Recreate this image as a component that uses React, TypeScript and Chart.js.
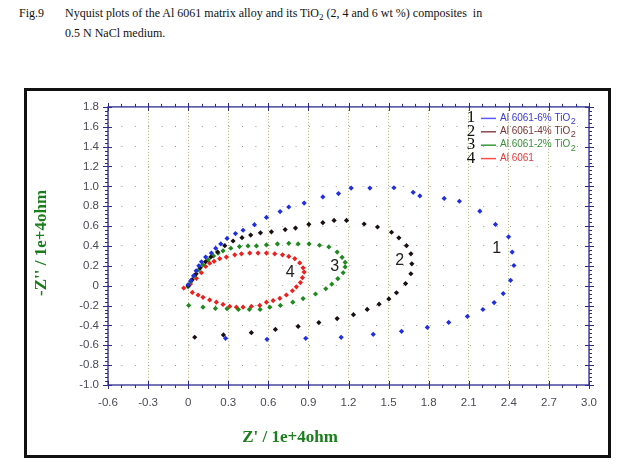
import React, { useEffect, useRef } from "react";
import { Chart, registerables } from "chart.js";

Chart.register(...registerables);

// ---------- data ----------
const seriesNames = [
  "Al 6061-6% TiO₂",
  "Al 6061-4% TiO₂",
  "Al 6061-2% TiO₂",
  "Al 6061",
];
const seriesNumbers = ["1", "2", "3", "4"];

const s1: [number, number][] = [
  [0.0, 0.01], [0.02, 0.05], [0.04, 0.1], [0.06, 0.15], [0.08, 0.2], [0.1, 0.24],
  [0.131, 0.288], [0.174, 0.328], [0.206, 0.377], [0.244, 0.42], [0.291, 0.476],
  [0.354, 0.525], [0.411, 0.558], [0.496, 0.614], [0.586, 0.687], [0.688, 0.746],
  [0.753, 0.792], [0.868, 0.832], [1.008, 0.894], [1.125, 0.927], [1.22, 0.983],
  [1.36, 0.983], [1.54, 0.986], [1.684, 0.94], [1.734, 0.904], [1.916, 0.878],
  [2.03, 0.85], [2.183, 0.75], [2.3, 0.617], [2.398, 0.492], [2.425, 0.338],
  [2.438, 0.203], [2.413, 0.054], [2.358, -0.08], [2.29, -0.17], [2.206, -0.24],
  [2.09, -0.31], [1.95, -0.37], [1.79, -0.42], [1.597, -0.46], [1.385, -0.49],
  [1.145, -0.52], [0.88, -0.53], [0.59, -0.54], [0.28, -0.53],
];

const s2: [number, number][] = [
  [0.0, 0.0], [0.03, 0.06], [0.06, 0.12], [0.09, 0.18], [0.13, 0.24], [0.17, 0.29],
  [0.22, 0.34], [0.274, 0.403], [0.336, 0.45], [0.403, 0.483], [0.468, 0.509],
  [0.541, 0.532], [0.623, 0.542], [0.726, 0.565], [0.803, 0.58], [0.903, 0.618],
  [1.008, 0.634], [1.092, 0.657], [1.185, 0.657], [1.317, 0.621], [1.417, 0.591],
  [1.522, 0.538], [1.577, 0.482], [1.634, 0.403], [1.667, 0.321], [1.674, 0.22],
  [1.667, 0.12], [1.627, 0.021], [1.559, -0.071], [1.502, -0.133], [1.429, -0.186],
  [1.34, -0.239], [1.237, -0.292], [1.115, -0.331], [0.978, -0.371], [0.823, -0.41],
  [0.653, -0.44], [0.473, -0.473], [0.264, -0.496], [0.049, -0.519],
];

const s3: [number, number][] = [
  [0.0, -0.01], [0.02, 0.04], [0.05, 0.1], [0.08, 0.16], [0.11, 0.21], [0.15, 0.26],
  [0.19, 0.3], [0.224, 0.328], [0.261, 0.351], [0.319, 0.377], [0.384, 0.394],
  [0.448, 0.4], [0.511, 0.4], [0.586, 0.41], [0.668, 0.42], [0.753, 0.426],
  [0.823, 0.42], [0.905, 0.42], [0.983, 0.407], [1.053, 0.39], [1.115, 0.338],
  [1.152, 0.285], [1.175, 0.235], [1.175, 0.189], [1.16, 0.13], [1.12, 0.071],
  [1.075, 0.015], [1.03, -0.031], [0.953, -0.084], [0.86, -0.13], [0.783, -0.166],
  [0.69, -0.199], [0.611, -0.216], [0.538, -0.239], [0.458, -0.239], [0.376, -0.239],
  [0.291, -0.232], [0.204, -0.229], [0.111, -0.216], [0.004, -0.199],
];

const s4: [number, number][] = [
  [-0.033, -0.024], [0.017, 0.016], [0.062, 0.074], [0.099, 0.13], [0.131, 0.193],
  [0.161, 0.226], [0.194, 0.245], [0.236, 0.272], [0.286, 0.288], [0.349, 0.311],
  [0.399, 0.321], [0.461, 0.328], [0.523, 0.328], [0.586, 0.328], [0.648, 0.321],
  [0.706, 0.311], [0.753, 0.295], [0.798, 0.272], [0.835, 0.229], [0.86, 0.18],
  [0.868, 0.137], [0.855, 0.081], [0.84, 0.031], [0.81, -0.012], [0.78, -0.051],
  [0.735, -0.094], [0.686, -0.127], [0.636, -0.15], [0.586, -0.166], [0.536, -0.199],
  [0.473, -0.209], [0.411, -0.216], [0.361, -0.216], [0.311, -0.209], [0.261, -0.189],
  [0.211, -0.166], [0.161, -0.143], [0.111, -0.117], [0.074, -0.094], [0.031, -0.068],
];

// loop labels "1".."4" placed at data coordinates
const loopLabelPos: [number, number][] = [
  [2.31, 0.377],
  [1.584, 0.255],
  [1.097, 0.19],
  [0.763, 0.13],
];

const xTickLabels = ["-0.6", "-0.3", "0", "0.3", "0.6", "0.9", "1.2", "1.5", "1.8", "2.1", "2.4", "2.7", "3.0"];
const yTickLabels = ["-1.0", "-0.8", "-0.6", "-0.4", "-0.2", "0", "0.2", "0.4", "0.6", "0.8", "1.0", "1.2", "1.4", "1.6", "1.8"];

const X_MIN = -0.6, X_MAX = 3.0, X_STEP = 0.3, X_MINOR = 0.1;
const Y_MIN = -1.0, Y_MAX = 1.8, Y_STEP = 0.2, Y_MINOR = 0.04;

// ---------- style ----------
const pointColors = ["#1f2fe0", "#1a0f0f", "#1e8a1e", "#ec1e1e"];
const legendLineColors = ["#5a5aff", "#8a4a4a", "#3a9a3a", "#ff4a4a"];
const legendTextColors = ["#3a3ad0", "#7a3535", "#3a8f3a", "#e53a3a"];
const AXIS_COLOR = "#2b2b8e";
const TITLE_COLOR = "#1b7d1b";
const TICK_COLOR = "#4a4a58";

const overlayPlugin = {
  id: "overlay",
  afterDraw(chart: any) {
    const { ctx, chartArea: a, scales } = chart;
    const xs = scales.x, ys = scales.y;
    ctx.save();
    // frame
    ctx.strokeStyle = AXIS_COLOR;
    ctx.lineWidth = 1.3;
    ctx.strokeRect(a.left, a.top, a.right - a.left, a.bottom - a.top);
    ctx.lineWidth = 1;
    // x ticks (bottom and top)
    const nx = Math.round((X_MAX - X_MIN) / X_MINOR);
    const xMajEvery = Math.round(X_STEP / X_MINOR);
    ctx.beginPath();
    for (let i = 0; i <= nx; i++) {
      const px = Math.round(xs.getPixelForValue(X_MIN + i * X_MINOR)) + 0.5;
      const major = i % xMajEvery === 0;
      ctx.moveTo(px, a.bottom - (major ? 4 : 0));
      ctx.lineTo(px, a.bottom + (major ? 4 : 3));
      ctx.moveTo(px, a.top + (major ? 4 : 0));
      ctx.lineTo(px, a.top - (major ? 4 : 3));
    }
    const ny = Math.round((Y_MAX - Y_MIN) / Y_MINOR);
    const yMajEvery = Math.round(Y_STEP / Y_MINOR);
    for (let i = 0; i <= ny; i++) {
      const py = Math.round(ys.getPixelForValue(Y_MIN + i * Y_MINOR)) + 0.5;
      const major = i % yMajEvery === 0;
      ctx.moveTo(a.left + (major ? 4 : 0), py);
      ctx.lineTo(a.left - (major ? 5 : 3), py);
      ctx.moveTo(a.right - (major ? 4 : 0), py);
      ctx.lineTo(a.right + (major ? 5 : 3), py);
    }
    ctx.stroke();

    // axis titles
    ctx.fillStyle = TITLE_COLOR;
    ctx.font = "bold 17px 'Liberation Serif'";
    ctx.textAlign = "center";
    ctx.textBaseline = "middle";
    ctx.fillText("Z' / 1e+4ohm", a.left + 182, a.bottom + 53);
    ctx.save();
    ctx.translate(15, (a.top + a.bottom) / 2 - 3);
    ctx.rotate(-Math.PI / 2);
    ctx.fillText("-Z'' / 1e+4ohm", 0, 0);
    ctx.restore();

    // loop labels
    ctx.fillStyle = "#222";
    ctx.font = "16px 'Liberation Sans'";
    loopLabelPos.forEach((p, i) => {
      ctx.fillText(seriesNumbers[i], xs.getPixelForValue(p[0]), ys.getPixelForValue(p[1]));
    });

    // legend
    const lx = a.right - 118;
    seriesNames.forEach((name, i) => {
      const y = a.top + 11 + i * 13.4;
      ctx.fillStyle = "#111";
      ctx.font = "17px 'Liberation Serif'";
      ctx.textAlign = "center";
      ctx.textBaseline = "middle";
      ctx.fillText(seriesNumbers[i], lx, y);
      ctx.strokeStyle = legendLineColors[i];
      ctx.lineWidth = 1.5;
      ctx.beginPath();
      ctx.moveTo(lx + 10, y + 0.5);
      ctx.lineTo(lx + 25, y + 0.5);
      ctx.stroke();
      ctx.fillStyle = legendTextColors[i];
      ctx.textAlign = "left";
      ctx.font = "10px 'Liberation Sans'";
      const hasSub = name.endsWith("₂");
      const base = hasSub ? name.slice(0, -1) : name;
      ctx.fillText(base, lx + 29, y);
      if (hasSub) {
        const w = ctx.measureText(base).width;
        ctx.font = "9px 'Liberation Sans'";
        ctx.fillText("2", lx + 29 + w + 0.5, y + 3.5);
      }
    });
    ctx.restore();
  },
};

export default function App() {
  const ref = useRef<HTMLCanvasElement>(null);
  useEffect(() => {
    if (!ref.current) return;
    const all = [s1, s2, s3, s4];
    const chart = new Chart(ref.current, {
      type: "scatter",
      data: {
        datasets: all.map((s, i) => ({
          label: seriesNames[i],
          data: s.map(([x, y]) => ({ x, y })),
          backgroundColor: pointColors[i],
          borderColor: pointColors[i],
          pointStyle: "rectRot",
          pointRadius: 2.6,
          borderWidth: 0,
          showLine: false,
        })),
      },
      options: {
        responsive: false,
        animation: false,
        devicePixelRatio: 1,
        layout: { padding: { top: 11, right: 18, bottom: 0, left: 0 } },
        plugins: { legend: { display: false }, tooltip: { enabled: false } },
        scales: {
          x: {
            type: "linear",
            min: X_MIN,
            max: X_MAX,
            afterFit: (s: any) => { s.height = 70; },
            ticks: {
              stepSize: X_STEP,
              padding: 11,
              color: TICK_COLOR,
              font: { family: "'Liberation Sans'", size: 11.5 },
              maxRotation: 0,
              autoSkip: false,
              callback: (_v: any, i: number) => xTickLabels[i],
            },
            grid: { color: "#b4b07c", lineWidth: 1, drawTicks: false },
            border: { display: false, dash: [1, 2] },
          },
          y: {
            type: "linear",
            min: Y_MIN,
            max: Y_MAX,
            afterFit: (s: any) => { s.width = 81; },
            ticks: {
              stepSize: Y_STEP,
              padding: 9,
              color: TICK_COLOR,
              font: { family: "'Liberation Sans'", size: 11.5 },
              autoSkip: false,
              callback: (_v: any, i: number) => yTickLabels[i],
            },
            grid: { color: "#9a9a9a", lineWidth: 1, drawTicks: false },
            border: { display: false, dash: [1, 12.4] },
          },
        },
      },
      plugins: [overlayPlugin],
    });
    return () => chart.destroy();
  }, []);

  const capStyle: React.CSSProperties = {
    position: "absolute",
    fontFamily: "'Liberation Serif', serif",
    fontSize: 12,
    lineHeight: "14px",
    color: "#111",
    whiteSpace: "nowrap",
  };

  return (
    <div style={{ position: "absolute", left: 0, top: 0, width: 628, height: 473, background: "#fff" }}>
      <div style={{ ...capStyle, left: 19, top: 6 }}>Fig.9</div>
      <div style={{ ...capStyle, left: 65, top: 6 }}>
        Nyquist plots of the Al 6061 matrix alloy and its TiO<sub style={{ fontSize: 9, lineHeight: 0 }}>2</sub> (2, 4 and 6 wt %) composites&nbsp; in
      </div>
      <div style={{ ...capStyle, left: 65, top: 26 }}>0.5 N NaCl medium.</div>
      <div
        style={{
          position: "absolute",
          left: 24,
          top: 88,
          width: 587,
          height: 370,
          border: "3px solid #111",
          boxSizing: "border-box",
          background: "#fff",
        }}
      >
        <canvas ref={ref} width={581} height={364} style={{ display: "block", width: 581, height: 364 }} />
      </div>
    </div>
  );
}
